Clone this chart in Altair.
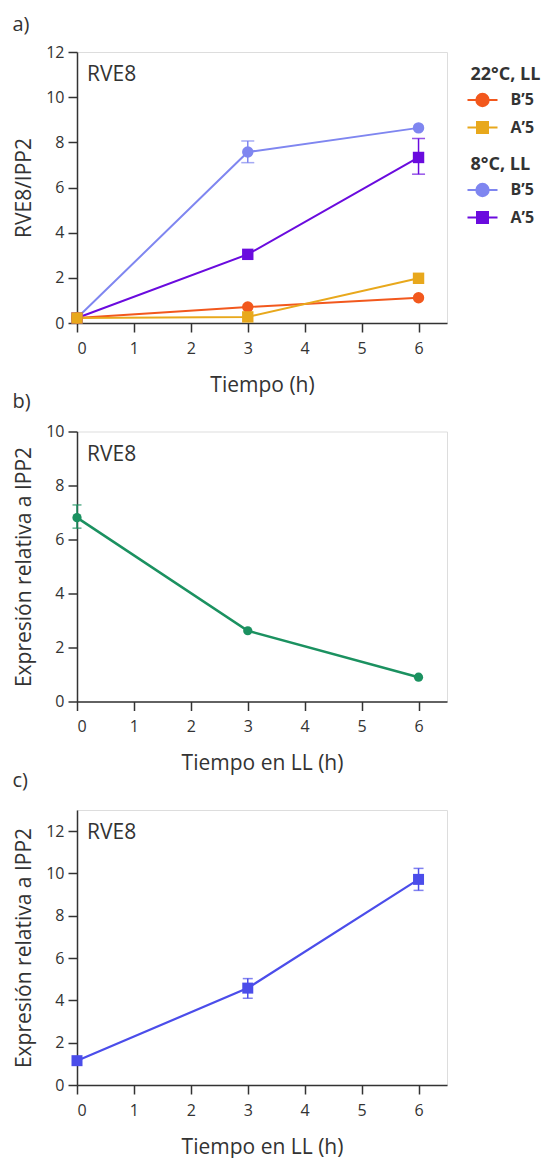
import altair as alt
import pandas as pd
import numpy as np

# ---------------- data ----------------
T = [0, 3, 6]

# panel a
a_keys = ["8B", "8A", "22B", "22A"]
a_group = ["8", "8", "22", "22"]
a_label = ["B\u20195", "A\u20195", "B\u20195", "A\u20195"]
a_values = {
    "8B": [0.22, 7.57, 8.64],
    "8A": [0.22, 3.04, 7.33],
    "22B": [0.22, 0.71, 1.12],
    "22A": [0.22, 0.27, 1.98],
}
a_lo = {
    "8B": [None, 7.10, None],
    "8A": [None, None, 6.59],
    "22B": [None, None, None],
    "22A": [None, None, None],
}
a_hi = {
    "8B": [None, 8.06, None],
    "8A": [None, None, 8.17],
    "22B": [None, None, None],
    "22A": [None, None, None],
}
a_colors = ["#7F86F0", "#6A0BDE", "#F2581D", "#E8A81C"]
a_shapes = ["circle", "square", "circle", "square"]

# panel b
b_values = [6.81, 2.62, 0.90]
b_lo = [6.42, None, None]
b_hi = [7.28, None, None]

# panel c
c_values = [1.15, 4.58, 9.72]
c_lo = [None, 4.10, 9.20]
c_hi = [None, 5.03, 10.24]

TXT = "#333333"
FONT = "Open Sans"

rows = []
for k, g, lab in zip(a_keys, a_group, a_label):
    for i, t in enumerate(T):
        rows.append({"key": k, "grp": g, "lab": lab, "t": t, "v": a_values[k][i],
                     "lo": a_lo[k][i], "hi": a_hi[k][i]})
df_a = pd.DataFrame(rows)
df_b = pd.DataFrame({"t": T, "v": b_values, "lo": b_lo, "hi": b_hi})
df_c = pd.DataFrame({"t": T, "v": c_values, "lo": c_lo, "hi": c_hi})


def xaxis(title):
    return alt.Axis(title=title, values=[0, 1, 2, 3, 4, 5, 6], grid=False,
                    tickSize=9, tickWidth=1.5, tickColor=TXT, domainColor=TXT, domainWidth=1.5,
                    labelFontSize=16, labelColor=TXT, labelPadding=8, labelFont=FONT,
                    titleFontSize=21, titleFontWeight="normal", titleColor=TXT, titleFont=FONT,
                    titleY=62, titleBaseline="middle")


def yaxis(title, vals):
    return alt.Axis(title=title, values=vals, grid=False,
                    tickSize=9, tickWidth=1.5, tickColor=TXT, domainColor=TXT, domainWidth=1.5,
                    labelFontSize=16, labelColor=TXT, labelPadding=4, labelFont=FONT,
                    titleFontSize=21, titleFontWeight="normal", titleColor=TXT, titleFont=FONT,
                    titleX=-53, titleBaseline="middle")


xsc = alt.Scale(domain=[0, 6.5], nice=False, zero=False)


def panel(df, tag, tag_y, ydomain, yvals, xtitle, ytitle, color_enc, shape_enc, psize, cap, lw,
          extra=None):
    ax_x = xaxis(xtitle)
    ax_y = yaxis(ytitle, yvals)
    ysc = alt.Scale(domain=ydomain, nice=False, zero=False)
    X = alt.X("t:Q", scale=xsc, axis=ax_x)
    base = alt.Chart(df)
    line = base.mark_line(strokeWidth=lw).encode(
        x=X, y=alt.Y("v:Q", scale=ysc, axis=ax_y), **color_enc)
    err = base.transform_filter("isValid(datum.lo)")
    rule = err.mark_rule(strokeWidth=1.5).encode(
        x=X, y=alt.Y("lo:Q", scale=ysc, axis=ax_y), y2="hi:Q", **color_enc)
    cap_lo = err.mark_tick(orient="horizontal", size=cap, thickness=1.5).encode(
        x=X, y=alt.Y("lo:Q", scale=ysc, axis=ax_y), **color_enc)
    cap_hi = err.mark_tick(orient="horizontal", size=cap, thickness=1.5).encode(
        x=X, y=alt.Y("hi:Q", scale=ysc, axis=ax_y), **color_enc)
    pts = base.mark_point(filled=True, opacity=1, size=psize).encode(
        x=X, y=alt.Y("v:Q", scale=ysc, axis=ax_y), **color_enc, **shape_enc)
    txt = alt.Chart(pd.DataFrame({"label": ["RVE8"]})).mark_text(
        align="left", baseline="middle", fontSize=21, color=TXT, font=FONT).encode(
        text="label:N", x=alt.value(10), y=alt.value(23))
    tag_txt = alt.Chart(pd.DataFrame({"label": [tag]})).mark_text(
        align="left", baseline="middle", fontSize=20, color=TXT, font=FONT).encode(
        text="label:N", x=alt.value(-64.5), y=alt.value(tag_y))
    layers = [line, rule, cap_lo, cap_hi, pts, txt, tag_txt]
    if extra:
        layers += extra(X, ysc, ax_y)
    return layers


# panel a
col_a = {"color": alt.Color("key:N", scale=alt.Scale(domain=a_keys, range=a_colors), legend=None)}
shp_a = {"shape": alt.Shape("key:N", scale=alt.Scale(domain=a_keys, range=a_shapes), legend=None)}

CIRC = "M-1.5,0L1.5,0M0.62,0A0.62,0.62,0,1,1,-0.62,0A0.62,0.62,0,1,1,0.62,0Z"
SQ = "M-1.5,0L1.5,0M-0.55,-0.55L0.55,-0.55L0.55,0.55L-0.55,0.55Z"
leg_labels = ["B\u20195", "A\u20195"]


def make_legend(title, ly):
    return alt.Legend(title=title, orient="none", legendX=393.5, legendY=ly,
                      titleFontSize=18, titleFontWeight="bold", titleColor=TXT, titleFont=FONT,
                      titlePadding=5, labelFontSize=16, labelFontWeight="bold", labelColor=TXT,
                      labelFont=FONT, labelOffset=17, symbolOffset=1, symbolSize=400,
                      symbolStrokeWidth=2, symbolOpacity=1, rowPadding=5.5, padding=0)


def legend_layers(X, ysc, ax_y):
    out = []
    for grp, title, ly, cols in [("22", "22\u00b0C, LL", 14, ["#F2581D", "#E8A81C"]),
                                 ("8", "8\u00b0C, LL", 104, ["#7F86F0", "#6A0BDE"])]:
        lg = make_legend(title, ly)
        csc = alt.Scale(domain=leg_labels, range=cols)
        out.append(
            alt.Chart(df_a).transform_filter(f"datum.grp == '{grp}'")
            .mark_point(filled=True, opacity=0, size=10)
            .encode(x=X, y=alt.Y("v:Q", scale=ysc, axis=ax_y),
                    fill=alt.Fill("lab:N", scale=csc, legend=lg),
                    stroke=alt.Stroke("lab:N", scale=csc, legend=lg),
                    shape=alt.Shape("lab:N", scale=alt.Scale(domain=leg_labels, range=[CIRC, SQ]),
                                    legend=lg))
        )
    return out


la = panel(df_a, "a)", -27, [0, 12], [0, 2, 4, 6, 8, 10, 12], "Tiempo (h)", "RVE8/IPP2",
           col_a, shp_a, 130, 13, 2, extra=legend_layers)
chart_a = alt.layer(*la).resolve_scale(fill="independent", stroke="independent",
                                       shape="independent").properties(width=370, height=271)

lb = panel(df_b, "b)", -30, [0, 10], [0, 2, 4, 6, 8, 10], "Tiempo en LL (h)",
           "Expresi\u00f3n relativa a IPP2",
           {"color": alt.value("#1B9160")}, {"shape": alt.value("circle")}, 85, 9, 2.5)
chart_b = alt.layer(*lb).properties(width=370, height=270)

lc = panel(df_c, "c)", -29, [0, 13], [0, 2, 4, 6, 8, 10, 12], "Tiempo en LL (h)",
           "Expresi\u00f3n relativa a IPP2",
           {"color": alt.value("#4B4DEA")}, {"shape": alt.value("square")}, 121, 10, 2.2)
chart_c = alt.layer(*lc).properties(width=370, height=275)

chart = alt.vconcat(chart_a, chart_b, chart_c, spacing=108.5, bounds="flush").properties(
    padding={"left": 12, "top": 14, "right": 0, "bottom": 0}
).configure_view(stroke=TXT, strokeWidth=1.5).configure(font=FONT, background="white")

chart.save("out.html", embed_options={"renderer": "svg", "actions": False})
